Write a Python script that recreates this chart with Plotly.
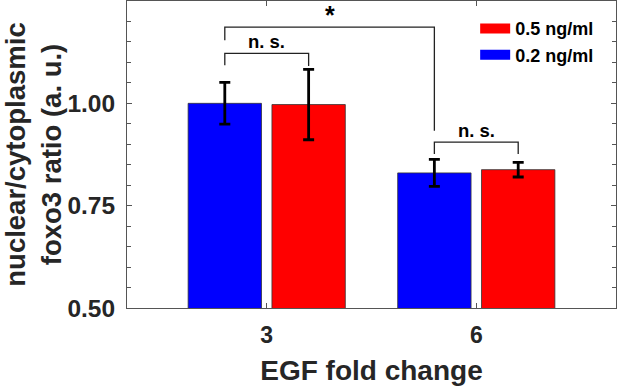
import plotly.graph_objects as go

# ---- data ----
categories = [3, 6]
series_names = ["0.2 ng/ml", "0.5 ng/ml"]
vals_02 = [1.000, 0.830]
err_02 = [0.051, 0.033]
vals_05 = [0.997, 0.838]
err_05 = [0.086, 0.018]
colors = ["#0000ff", "#ff0000"]

# significance brackets: (left series idx, left cat idx, right series idx, right cat idx,
#                         bracket y, left leg bottom, right leg bottom, label)
brackets = [
    (0, 0, 1, 0, 1.122, 1.093, 1.091, "n. s."),
    (0, 1, 1, 1, 0.905, 0.876, 0.876, "n. s."),
    (0, 0, 0, 1, 1.186, 1.154, 0.933, "*"),
]

FONT = "Liberation Sans, Arial, Helvetica, sans-serif"
TXT = "#262626"
AX = "#555555"

half_slot = 0.6  # bar centre offset from category
fig = go.Figure()
for name, vals, errs, col in [(series_names[0], vals_02, err_02, colors[0]),
                              (series_names[1], vals_05, err_05, colors[1])]:
    fig.add_trace(go.Bar(
        x=categories, y=vals, name=name, showlegend=False, legendgroup=name,
        marker=dict(color=col, line=dict(color="#333333", width=0.8)),
        error_y=dict(type="data", array=errs, color="black", thickness=2.8, width=5.5),
    ))
# legend entries (wide swatches)
for name, col in [(series_names[1], colors[1]), (series_names[0], colors[0])]:
    fig.add_trace(go.Scatter(x=[None], y=[None], mode="lines", name=name,
                             legendgroup=name, line=dict(color=col, width=12)))

offs = [-half_slot, half_slot]
for ls, lc, rs, rc, yb, yl, yr, lab in brackets:
    x0 = categories[lc] + offs[ls]
    x1 = categories[rc] + offs[rs]
    fig.add_shape(type="path", xref="x", yref="y",
                  path=f"M{x0},{yl} L{x0},{yb} L{x1},{yb} L{x1},{yr}",
                  line=dict(color="#222222", width=1.3))
    is_star = lab == "*"
    fig.add_annotation(x=(x0 + x1) / 2, y=yb, xref="x", yref="y", text=lab,
                       showarrow=False, yanchor="bottom",
                       yshift=-4 if is_star else -1,
                       font=dict(family=FONT, size=25 if is_star else 18.5,
                                 color="black", weight="bold"))

fig.update_layout(
    width=617, height=386,
    margin=dict(l=127, r=1, t=1, b=78),
    paper_bgcolor="white", plot_bgcolor="white",
    barmode="group", bargap=0.2, bargroupgap=0.125,
    font=dict(family=FONT, color=TXT, weight="bold"),
    legend=dict(x=0.712, y=0.97, xanchor="left", yanchor="top",
                bgcolor="rgba(0,0,0,0)", font=dict(size=18, family=FONT, color="black", weight="bold"),
                tracegroupgap=0, itemwidth=30),
    showlegend=True,
)
fig.update_xaxes(
    range=[1, 8], tickvals=categories, ticktext=[str(c) for c in categories],
    ticks="inside", ticklen=5, tickcolor=AX, showline=True, linecolor=AX, linewidth=1,
    mirror="ticks", showgrid=False, zeroline=False, automargin=False, ticklabelstandoff=6,
    tickfont=dict(size=23, family=FONT, color=TXT, weight="bold"),
    title=dict(text="EGF fold change", standoff=13,
               font=dict(size=28, family=FONT, color=TXT, weight="bold")),
)
fig.update_yaxes(
    range=[0.5, 1.25], tickvals=[0.5, 0.75, 1.0], ticktext=["0.50", "0.75", "1.00"],
    ticks="inside", ticklen=5, tickcolor=AX, showline=True, linecolor=AX, linewidth=1,
    mirror="ticks", showgrid=False, zeroline=False, ticklabelstandoff=6, automargin=False,
    minor=dict(dtick=0.05, ticks="inside", ticklen=4, tickcolor=AX, showgrid=False),
    tickfont=dict(size=24.5, family=FONT, color=TXT, weight="bold"),
    title=dict(text="nuclear/cytoplasmic<br>foxo3 ratio (a. u.)", standoff=8,
               font=dict(size=27.5, family=FONT, color=TXT, weight="bold")),
)
fig.write_html("out.html", config={"displayModeBar": False},
               post_script="document.body.style.margin='0';")
